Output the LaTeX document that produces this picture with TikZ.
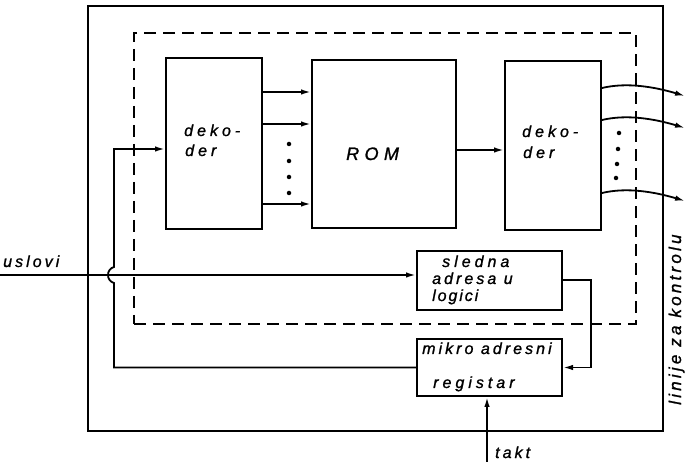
\documentclass[tikz,border=0pt]{standalone}
\usepackage{fontspec}
\setmainfont{Liberation Sans}
\newfontfamily\lsA[LetterSpace=25,FakeBold=1.2]{Liberation Sans}
\newfontfamily\lsB[LetterSpace=30,FakeBold=1.2]{Liberation Sans}
\newfontfamily\lsC[LetterSpace=12,FakeBold=1.2]{Liberation Sans}
\newfontfamily\lsD[LetterSpace=19,FakeBold=1.2]{Liberation Sans}
\usetikzlibrary{arrows.meta}
\begin{document}
\begin{tikzpicture}[x=1pt,y=-1pt,
  box/.style={draw, line width=2pt, inner sep=0pt},
  wire/.style={line width=1.8pt},
  arr/.style={wire,-{Latex[length=10pt,width=5.5pt]}},
  lbl/.style={anchor=base west, inner sep=0pt, font=\lsA\itshape\fontsize{16}{18}\selectfont},
  lblD/.style={lbl, font=\lsD\itshape\fontsize{16}{18}\selectfont},
  dotn/.style={circle, fill, inner sep=0pt, minimum size=4.5pt}]
\useasboundingbox (0,0) rectangle (686,462);
% frames
\node[box, minimum width=575pt, minimum height=425pt] (outer) at (375.5,218.5) {};
\node[draw, line width=1.8pt, dash pattern=on 12pt off 7pt, inner sep=0pt,
      minimum width=502pt, minimum height=291pt] (dash) at (385,178.5) {};
% blocks
\node[box, minimum width=96pt, minimum height=171pt] (dekL) at (214,143.5) {};
\node[box, minimum width=144pt, minimum height=168pt] (rom) at (384,144) {};
\node[box, minimum width=96pt, minimum height=169pt] (dekR) at (553,145.5) {};
\node[box, minimum width=145pt, minimum height=59pt] (sled) at (489.5,280.5) {};
\node[box, minimum width=145pt, minimum height=57pt] (mikro) at (489.5,367.5) {};
% texts
\node[lbl] (t1) at (184,136) {deko-};
\node[lbl] (t2) at (185,156) {der};
\node[lbl, font=\lsB\itshape\fontsize{18}{20}\selectfont] (t3) at (346,160) {ROM};
\node[lbl] (t4) at (522,137) {deko-};
\node[lbl] (t5) at (523,158) {der};
\node[lbl] (t6) at (442,267) {sledna};
\node[lblD] (t7) at (432,284) {adresa u};
\node[lbl, font=\lsC\itshape\fontsize{16}{18}\selectfont] (t8) at (432,301) {logici};
\node[lblD] (t9) at (422,354) {mikro adresni};
\node[lbl] (t10) at (433,388) {registar};
\node[lblD] (t11) at (3,267) {uslovi};
\node[lblD] (t12) at (495,458) {takt};
\node[lblD, rotate=90, font=\lsD\itshape\fontsize{17}{19}\selectfont] (t13) at (681,405) {linije za kontrolu};
% dots
\node[dotn] (d1) at (289,144) {};
\node[dotn] (d2) at (289,161) {};
\node[dotn] (d3) at (289,177) {};
\node[dotn] (d4) at (289,193) {};
\node[dotn] (d5) at (619,133) {};
\node[dotn] (d6) at (618,149) {};
\node[dotn] (d7) at (617,164) {};
\node[dotn] (d8) at (616,178) {};
% coordinates
\coordinate (r1) at (0,92);
\coordinate (r2) at (0,124);
\coordinate (r3) at (0,204);
\coordinate (rm) at (0,150);
\coordinate (q1) at (0,88);
\coordinate (q2) at (0,120);
\coordinate (q3) at (0,193);
\coordinate (o1) at (685,96);
\coordinate (o2) at (685,128);
\coordinate (o3) at (685,201);
\coordinate (uin) at (0,275);
\coordinate (jb) at (114,283);
\coordinate (jt) at (114,267);
\coordinate (lin) at (0,149);
\coordinate (s1) at (0,280);
\coordinate (sx) at (591,0);
\coordinate (tk) at (487,462);
% connectors
\draw[arr] (dekL.east |- r1) -- (rom.west |- r1);
\draw[arr] (dekL.east |- r2) -- (rom.west |- r2);
\draw[arr] (dekL.east |- r3) -- (rom.west |- r3);
\draw[arr] (rom.east |- rm) -- (dekR.west |- rm);
\draw[arr] (dekR.east |- q1) .. controls +(25,-6) and +(-30,-9) .. (o1);
\draw[arr] (dekR.east |- q2) .. controls +(25,-6) and +(-30,-9) .. (o2);
\draw[arr] (dekR.east |- q3) .. controls +(25,-6) and +(-30,-9) .. (o3);
\draw[arr] (uin) -- (sled.west |- uin);
\draw[arr] (mikro.west) -| (jb) .. controls +(-8,-2) and +(-8,2) .. (jt) |- (dekL.west |- lin);
\draw[arr] (sled.east |- s1) -| (mikro.east -| sx) -- (mikro.east);
\draw[arr] (tk) -- (mikro.south -| tk);
\end{tikzpicture}
\end{document}
